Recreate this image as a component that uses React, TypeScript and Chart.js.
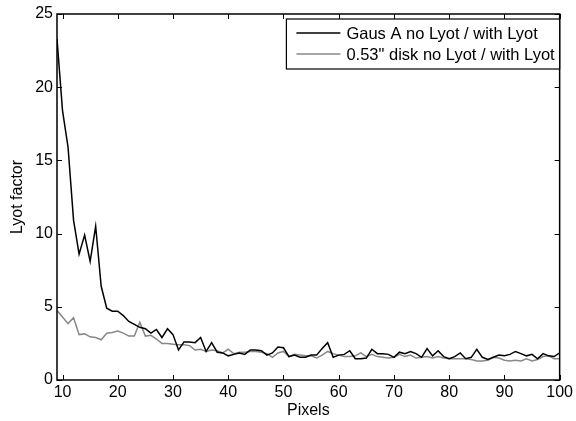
import React, { useEffect, useRef } from "react";
import { Chart, registerables } from "chart.js";

Chart.register(...registerables);

const pixels = [
  9, 10, 11, 12, 13, 14, 15, 16, 17, 18, 19, 20, 21, 22, 23, 24, 25, 26, 27, 28, 29, 30,
  31, 32, 33, 34, 35, 36, 37, 38, 39, 40, 41, 42, 43, 44, 45, 46, 47, 48, 49, 50,
  51, 52, 53, 54, 55, 56, 57, 58, 59, 60, 61, 62, 63, 64, 65, 66, 67, 68, 69, 70,
  71, 72, 73, 74, 75, 76, 77, 78, 79, 80, 81, 82, 83, 84, 85, 86, 87, 88, 89, 90,
  91, 92, 93, 94, 95, 96, 97, 98, 99, 100,
];

const gausA = [
  23.3, 18.4, 15.9, 10.9, 8.6, 9.9, 8.1, 10.5, 6.4, 4.9, 4.7, 4.7, 4.4, 4.0, 3.8, 3.6, 3.5, 3.2, 3.45, 2.9, 3.5, 3.1,
  2.05, 2.6, 2.6, 2.55, 2.9, 1.95, 2.55, 1.9, 1.85, 1.65, 1.75, 1.85, 1.75, 2.05, 2.05, 2.0, 1.7, 1.85, 2.25, 2.2,
  1.6, 1.7, 1.55, 1.55, 1.7, 1.7, 2.15, 2.55, 1.55, 1.7, 1.75, 2.0, 1.45, 1.45, 1.5, 2.1, 1.8, 1.8, 1.75, 1.55,
  1.9, 1.8, 1.95, 1.8, 1.55, 2.15, 1.65, 2.0, 1.6, 1.45, 1.6, 1.85, 1.45, 1.55, 2.1, 1.55, 1.4, 1.55, 1.7, 1.65,
  1.75, 1.95, 1.8, 1.65, 1.75, 1.45, 1.8, 1.65, 1.6, 1.85,
];

const disk053 = [
  4.75, 4.3, 3.85, 4.25, 3.1, 3.15, 2.95, 2.9, 2.75, 3.2, 3.25, 3.35, 3.2, 3.0, 3.0, 3.95, 3.0, 3.05, 2.8, 2.5, 2.5, 2.45,
  2.4, 2.4, 2.35, 2.05, 2.1, 1.95, 2.05, 2.0, 1.85, 2.1, 1.8, 1.9, 1.9, 1.95, 1.95, 1.9, 1.8, 1.55, 1.85, 1.95,
  1.6, 1.75, 1.7, 1.65, 1.65, 1.5, 1.7, 1.95, 1.8, 1.7, 1.6, 1.6, 1.65, 1.85, 1.6, 1.75, 1.6, 1.55, 1.5, 1.55,
  1.75, 1.6, 1.7, 1.5, 1.55, 1.6, 1.5, 1.6, 1.5, 1.45, 1.45, 1.45, 1.45, 1.4, 1.3, 1.3, 1.35, 1.55, 1.5, 1.35,
  1.3, 1.35, 1.3, 1.45, 1.3, 1.4, 1.6, 1.65, 1.45, 1.45,
];

const xTicks = [10, 20, 30, 40, 50, 60, 70, 80, 90, 100];
const yTicks = [0, 5, 10, 15, 20, 25];

const seriesLabels = ["Gaus A no Lyot / with Lyot", "0.53\" disk no Lyot / with Lyot"];
const seriesColors = ["#000000", "#888888"];

const FONT = "'Liberation Sans', Arial, Helvetica, sans-serif";
const FS = 16;

const framePlugin = {
  id: "frame",
  afterDatasetsDraw(chart: any) {
    const { ctx, chartArea, scales } = chart;
    const { left, right, top, bottom } = chartArea;
    const xs = scales.x;
    const ys = scales.y;
    ctx.save();
    ctx.strokeStyle = "#000";
    ctx.lineWidth = 1.5;
    ctx.strokeRect(left, top, right - left, bottom - top);
    ctx.lineWidth = 1;
    const tl = 5;
    ctx.beginPath();
    for (const v of xTicks) {
      const px = Math.round(xs.getPixelForValue(v)) + 0.5;
      ctx.moveTo(px, bottom);
      ctx.lineTo(px, bottom - tl);
      ctx.moveTo(px, top);
      ctx.lineTo(px, top + tl);
    }
    for (const v of yTicks) {
      const py = Math.round(ys.getPixelForValue(v)) + 0.5;
      ctx.moveTo(left, py);
      ctx.lineTo(left + tl, py);
      ctx.moveTo(right, py);
      ctx.lineTo(right - tl, py);
    }
    ctx.stroke();
    ctx.restore();
  },
};

const legendPlugin = {
  id: "boxLegend",
  afterDraw(chart: any) {
    const { ctx, chartArea } = chart;
    ctx.save();
    ctx.font = `16.5px ${FONT}`;
    const widths = seriesLabels.map((t) => ctx.measureText(t).width);
    const maxW = Math.max(...widths);
    const right = chartArea.right;
    const top = chartArea.top + 5;
    const lineLen = 44;
    const padL = 10;
    const gap = 6;
    const padR = 5;
    const rowH = 21;
    const width = padL + lineLen + gap + maxW + padR;
    const height = 50;
    const left = right - width;
    ctx.fillStyle = "#fff";
    ctx.fillRect(left, top, width, height);
    ctx.strokeStyle = "#000";
    ctx.lineWidth = 1.2;
    ctx.strokeRect(left, top, width, height);
    seriesLabels.forEach((label, i) => {
      const cy = top + 14 + i * rowH;
      ctx.strokeStyle = seriesColors[i];
      ctx.lineWidth = 1.5;
      ctx.beginPath();
      ctx.moveTo(left + padL, cy);
      ctx.lineTo(left + padL + lineLen, cy);
      ctx.stroke();
      ctx.fillStyle = "#000";
      ctx.textBaseline = "middle";
      ctx.textAlign = "left";
      ctx.fillText(label, left + padL + lineLen + gap, cy + 1);
    });
    ctx.restore();
  },
};

export default function App() {
  const ref = useRef<HTMLCanvasElement | null>(null);

  useEffect(() => {
    if (!ref.current) return;
    const mk = (ys: number[]) => pixels.map((x, i) => ({ x, y: ys[i] }));
    const chart = new Chart(ref.current, {
      type: "line",
      data: {
        datasets: [
          {
            label: seriesLabels[0],
            data: mk(gausA),
            borderColor: seriesColors[0],
            borderWidth: 1.5,
            pointRadius: 0,
            tension: 0,
            fill: false,
          },
          {
            label: seriesLabels[1],
            data: mk(disk053),
            borderColor: seriesColors[1],
            borderWidth: 1.5,
            pointRadius: 0,
            tension: 0,
            fill: false,
          },
        ],
      },
      options: {
        animation: false,
        responsive: false,
        maintainAspectRatio: false,
        layout: { padding: { top: 14, right: 15, left: 0, bottom: 0 } },
        plugins: {
          legend: { display: false },
          tooltip: { enabled: false },
        },
        scales: {
          x: {
            type: "linear",
            min: 9,
            max: 100,
            grid: { display: false, drawTicks: false, tickLength: 0 },
            border: { display: false },
            afterBuildTicks: (s: any) => {
              s.ticks = xTicks.map((v) => ({ value: v }));
            },
            afterFit: (s: any) => {
              s.height = 41;
            },
            ticks: {
              color: "#000",
              padding: 3,
              maxRotation: 0,
              autoSkip: false,
              font: { family: FONT, size: FS },
              callback: (v: any) => String(v),
            },
            title: {
              display: true,
              text: "Pixels",
              color: "#000",
              font: { family: FONT, size: FS },
              padding: { top: 0, bottom: 1 },
            },
          },
          y: {
            type: "linear",
            min: 0,
            max: 25,
            grid: { display: false, drawTicks: false, tickLength: 0 },
            border: { display: false },
            afterBuildTicks: (s: any) => {
              s.ticks = yTicks.map((v) => ({ value: v }));
            },
            afterFit: (s: any) => {
              s.width = 57;
            },
            ticks: {
              color: "#000",
              padding: 4,
              autoSkip: false,
              font: { family: FONT, size: FS },
              callback: (v: any) => String(v),
            },
            title: {
              display: true,
              text: "Lyot factor",
              color: "#000",
              font: { family: FONT, size: FS },
              padding: { top: 8, bottom: 0 },
            },
          },
        },
      },
      plugins: [framePlugin, legendPlugin],
    });
    return () => chart.destroy();
  }, []);

  return (
    <div style={{ position: "absolute", left: 0, top: 0, width: 576, height: 421, background: "#fff" }}>
      <canvas ref={ref} width={576} height={421} />
    </div>
  );
}
